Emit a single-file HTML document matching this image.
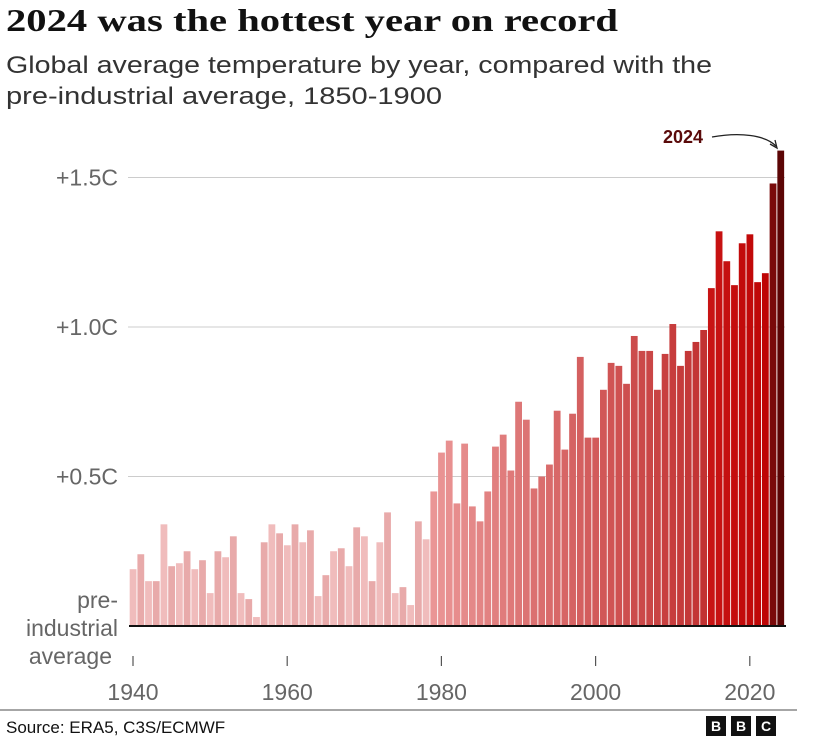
<!DOCTYPE html>
<html><head><meta charset="utf-8"><style>
body{margin:0;background:#fff;width:814px;height:745px;overflow:hidden;font-family:"Liberation Sans",sans-serif;}
</style></head><body>
<svg width="814" height="745" xmlns="http://www.w3.org/2000/svg">
<text x="6" y="31" font-family="Liberation Serif, serif" font-weight="bold" font-size="32" fill="#111" textLength="612" lengthAdjust="spacingAndGlyphs">2024 was the hottest year on record</text>
<text x="6" y="73" font-size="24" fill="#333" textLength="706" lengthAdjust="spacingAndGlyphs">Global average temperature by year, compared with the</text>
<text x="6" y="104" font-size="24" fill="#333" textLength="436" lengthAdjust="spacingAndGlyphs">pre-industrial average, 1850-1900</text>
<g id="grid"></g>
<g id="bars"></g>
<g id="xaxis"></g>
<text x="118" y="608" font-size="23" fill="#666" text-anchor="end">pre-</text>
<text x="118" y="636" font-size="23" fill="#666" text-anchor="end">industrial</text>
<text x="112" y="664" font-size="23" fill="#666" text-anchor="end">average</text>
<text x="703" y="143" font-size="18" font-weight="bold" fill="#5a0a0a" text-anchor="end">2024</text>
<path d="M712 137 C740 132 765 135 776 146" fill="none" stroke="#222" stroke-width="1.3"/>
<path d="M770 144 L777 148 L775 140" fill="none" stroke="#222" stroke-width="1.3"/>
<line x1="0" y1="710" x2="797" y2="710" stroke="#888" stroke-width="1.5"/>
<text x="6" y="733" font-size="17" fill="#111">Source: ERA5, C3S/ECMWF</text>
<g font-weight="bold" font-size="14" fill="#fff" text-anchor="middle">
<rect x="706" y="716" width="20" height="20" fill="#111"/><text x="716" y="731">B</text>
<rect x="731" y="716" width="20" height="20" fill="#111"/><text x="741" y="731">B</text>
<rect x="756" y="716" width="20" height="20" fill="#111"/><text x="766" y="731">C</text>
</g>
</svg>
<script>
const years=[];for(let y=1940;y<=2024;y++)years.push(y);
const values=[0.19,0.24,0.15,0.15,0.34,0.20,0.21,0.25,0.19,0.22,0.11,0.25,0.23,0.30,0.11,0.09,0.03,0.28,0.34,0.31,
0.27,0.34,0.28,0.32,0.10,0.17,0.25,0.26,0.20,0.33,0.30,0.15,0.28,0.38,0.11,0.13,0.07,0.35,0.29,0.45,
0.58,0.62,0.41,0.61,0.40,0.35,0.45,0.60,0.64,0.52,0.75,0.69,0.46,0.50,0.54,0.72,0.59,0.71,0.90,0.63,
0.63,0.79,0.88,0.87,0.81,0.97,0.92,0.92,0.79,0.91,1.01,0.87,0.92,0.95,0.99,1.13,1.32,1.22,1.14,1.28,
1.31,1.15,1.18,1.48,1.59];
const yTicks=[0.5,1.0,1.5];
const yTickLabels=["+0.5C","+1.0C","+1.5C"];
const xTicks=[1940,1960,1980,2000,2020];
const NS="http://www.w3.org/2000/svg";
const x=yr=>133+(yr-1940)*7.71;
const y=v=>626-v*299;
function mk(t,a,p){const e=document.createElementNS(NS,t);for(const k in a)e.setAttribute(k,a[k]);p.appendChild(e);return e;}
const grid=document.getElementById('grid');
yTicks.forEach((v,i)=>{
 const l=mk('line',{x1:128,x2:785,y1:y(v),y2:y(v),stroke:'#ccc','stroke-width':1},grid);
 
 
 const t=mk('text',{x:118,y:y(v)+8,'font-size':23,fill:'#666','text-anchor':'end'},grid);
 t.textContent=yTickLabels[i];
 
 
});
function col(yr){
 if(yr>=2023)return yr==2024?'#5c0505':'#7a0a0a';
 let r,g,b;
 if(yr<1979){r=240;g=188;b=188;}
 else if(yr<2015){const t=(yr-1979)/(2014-1979);r=Math.round(234-t*40);g=Math.round(150-t*100);b=Math.round(150-t*100);}
 else{const t=(yr-2015)/7;r=Math.round(200-t*10);g=Math.round(20-t*15);b=Math.round(20-t*15);}
 return `rgb(${r},${g},${b})`;
}
const bars=document.getElementById('bars');
years.forEach((yr,i)=>{
 let c=col(yr);
 if(yr<1979&&i%2){c='rgb(232,170,170)';}
 const r=mk('rect',{x:x(yr)-3.3,width:6.8,y:y(values[i]),height:626-y(values[i]),fill:c},bars);
 
 
});
const xa=document.getElementById('xaxis');
const base=mk('line',{x1:129,x2:786,y1:626,y2:626,stroke:'#111','stroke-width':2},xa);


xTicks.forEach(t=>{
 const tk=mk('line',{x1:x(t),x2:x(t),y1:656,y2:666,stroke:'#555','stroke-width':1.2},xa);
 
 
 const tx=mk('text',{x:x(t),y:700,'font-size':23,fill:'#666','text-anchor':'middle'},xa);
 tx.textContent=t;
 
 
});
</script>
</body></html>
